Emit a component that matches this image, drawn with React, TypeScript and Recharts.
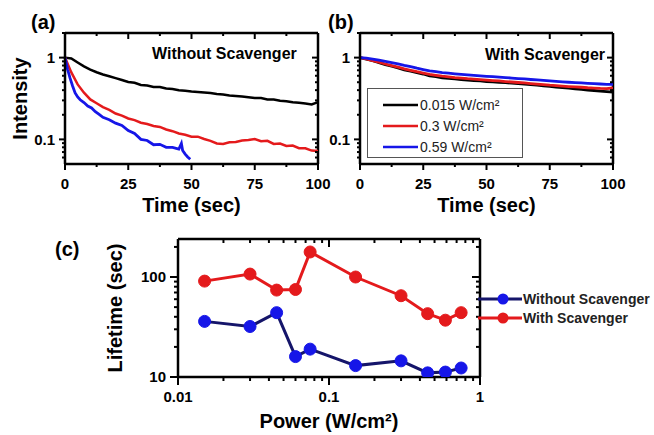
import { LineChart, Line, XAxis, YAxis, Legend, ReferenceLine } from "recharts";

const FONT = '"Liberation Sans", Arial, Helvetica, sans-serif';

// ---- panels (a) and (b): intensity vs time ----
const timeA = [
  0, 2.5, 5, 7.5, 10, 12.5, 15, 17.5, 20, 22.5, 25, 27.5, 30, 32.5, 35, 37.5, 40, 42.5, 45, 47.5, 50,
  52.5, 55, 57.5, 60, 62.5, 65, 67.5, 70, 72.5, 75, 77.5, 80, 82.5, 85, 87.5, 90, 92.5, 95, 97.5, 100,
];
const blackA = [
  1.0, 0.975, 0.87, 0.78, 0.712, 0.662, 0.622, 0.592, 0.562, 0.532, 0.503, 0.492, 0.463, 0.457, 0.438, 0.436,
  0.418, 0.414, 0.398, 0.394, 0.386, 0.38, 0.374, 0.368, 0.36, 0.354, 0.345, 0.34, 0.334, 0.328, 0.32,
  0.32, 0.308, 0.307, 0.296, 0.293, 0.284, 0.28, 0.274, 0.268, 0.285,
];
const redA = [
  1.0, 0.66, 0.47, 0.372, 0.308, 0.277, 0.248, 0.23, 0.207, 0.195, 0.18, 0.172, 0.16, 0.154, 0.146, 0.142,
  0.132, 0.126, 0.118, 0.114, 0.108, 0.108, 0.101, 0.096, 0.089, 0.088, 0.092, 0.093, 0.097, 0.098, 0.101,
  0.095, 0.096, 0.088, 0.089, 0.083, 0.084, 0.078, 0.078, 0.073, 0.072,
];
const timeBlueA = [
  0, 0.5, 1, 2, 3, 4, 5, 6, 7.5, 9, 10.5, 12, 13.5, 15, 17.5, 20, 22.5, 25, 27.5, 30, 32.5, 35, 37.5,
  40, 42.5, 45, 46, 46.5, 47.5, 48.5, 49.5,
];
const blueA = [
  1.0, 0.86, 0.72, 0.56, 0.45, 0.37, 0.33, 0.305, 0.282, 0.256, 0.242, 0.218, 0.202, 0.186, 0.174, 0.158,
  0.148, 0.128, 0.118, 0.1, 0.097, 0.086, 0.087, 0.08, 0.08, 0.076, 0.089, 0.073, 0.066, 0.061, 0.057,
];
const blackB = [
  1.0, 0.96, 0.915, 0.87, 0.82, 0.785, 0.75, 0.71, 0.685, 0.655, 0.63, 0.6, 0.585, 0.565, 0.558, 0.548,
  0.54, 0.532, 0.522, 0.518, 0.51, 0.505, 0.498, 0.494, 0.487, 0.48, 0.474, 0.467, 0.46, 0.452, 0.446,
  0.437, 0.43, 0.424, 0.415, 0.408, 0.4, 0.396, 0.39, 0.384, 0.378,
];
const redB = [
  1.0, 0.965, 0.92, 0.88, 0.835, 0.8, 0.765, 0.73, 0.7, 0.672, 0.648, 0.625, 0.608, 0.592, 0.582, 0.57,
  0.562, 0.552, 0.546, 0.538, 0.532, 0.524, 0.518, 0.51, 0.503, 0.496, 0.49, 0.482, 0.475, 0.468, 0.46,
  0.455, 0.449, 0.443, 0.438, 0.434, 0.428, 0.424, 0.42, 0.418, 0.425,
];
const blueB = [
  1.0, 0.985, 0.96, 0.93, 0.9, 0.87, 0.84, 0.805, 0.775, 0.742, 0.715, 0.69, 0.672, 0.655, 0.645, 0.634,
  0.625, 0.615, 0.606, 0.598, 0.59, 0.584, 0.576, 0.57, 0.562, 0.555, 0.548, 0.54, 0.533, 0.526, 0.518,
  0.512, 0.506, 0.5, 0.495, 0.49, 0.485, 0.48, 0.476, 0.472, 0.47,
];
const powerLabels = ["0.015 W/cm²", "0.3 W/cm²", "0.59 W/cm²"];

const timeTicks = [0, 12.5, 25, 37.5, 50, 62.5, 75, 87.5, 100];
const timeMajor = [0, 25, 50, 75, 100];
const intensityTicks = [0.06, 0.07, 0.08, 0.09, 0.1, 0.2, 0.3, 0.4, 0.5, 0.6, 0.7, 0.8, 0.9, 1, 2];
const intensityMajor = [0.1, 1];

// ---- panel (c): lifetime vs power ----
const power = [0.015, 0.03, 0.045, 0.06, 0.075, 0.15, 0.3, 0.45, 0.59, 0.75];
const lifetimeWithout = [36, 32, 44, 16, 19, 13, 14.5, 11, 11.2, 12.3];
const lifetimeWith = [91, 107, 74, 75, 178, 100, 65, 43, 37, 44];
const seriesC = ["Without Scavenger", "With Scavenger"];

const powerTicks = [
  0.01, 0.02, 0.03, 0.04, 0.05, 0.06, 0.07, 0.08, 0.09, 0.1, 0.2, 0.3, 0.4, 0.5, 0.6, 0.7, 0.8, 0.9, 1,
];
const powerMajor = [0.01, 0.1, 1];
const lifetimeTicks = [10, 20, 30, 40, 50, 60, 70, 80, 90, 100, 200];
const lifetimeMajor = [10, 100];

const RED = "#e41a1c";
const BLUE = "#1616e8";
const NAVY = "#15156a";

const zip = (xs: number[], ys: number[]) => xs.map((t, i) => ({ t, v: ys[i] }));

const axisLine = { stroke: "#000", strokeWidth: 2.5 };
const edge = { stroke: "#000", strokeWidth: 2.5 };
const tickText = { fontFamily: FONT, fontSize: 15, fontWeight: "bold" as const, fill: "#000" };
const titleStyle = { fontFamily: FONT, fontSize: 20, fontWeight: "bold" as const, fill: "#000" };

// plot box sizes given by the chart margins, used for the inward ticks on the far side
const SPAN_AB = { w: 253, h: 131 };
const SPAN_C = { w: 302, h: 138 };

// outer tick + label on the main axis, plus the inward tick on the opposite frame edge
function axisTick(horizontal: boolean, majors: number[], big: number, small: number, span: number) {
  return (props: any) => {
    const { x, y, payload } = props;
    const v: number = payload.value;
    const isMajor = majors.includes(v);
    const len = isMajor ? big : small;
    if (horizontal) {
      return (
        <g>
          <line x1={x} y1={y} x2={x} y2={y + len} stroke="#000" strokeWidth={2} />
          <line x1={x} y1={y - span} x2={x} y2={y - span + len} stroke="#000" strokeWidth={2} />
          {isMajor && (
            <text x={x} y={y + 25} textAnchor="middle" style={tickText}>
              {v}
            </text>
          )}
        </g>
      );
    }
    return (
      <g>
        <line x1={x - len} y1={y} x2={x} y2={y} stroke="#000" strokeWidth={2} />
        <line x1={x + span - len} y1={y} x2={x + span} y2={y} stroke="#000" strokeWidth={2} />
        {isMajor && (
          <text x={x - big - 4} y={y} dy="0.36em" textAnchor="end" style={tickText}>
            {v}
          </text>
        )}
      </g>
    );
  };
}

const common = { tickSize: 0, tickMargin: 0, tickLine: false, interval: 0 as const };

const legendB = (props: any) => (
  <div
    style={{
      width: 156,
      height: 70,
      boxSizing: "border-box",
      border: "1.5px solid #555",
      background: "#fff",
      paddingTop: 5,
    }}
  >
    {powerLabels.map((name) => {
      const p = (props.payload || []).find((q: any) => q.value === name);
      return (
        <div key={name} style={{ display: "flex", alignItems: "center", height: 21, paddingLeft: 15 }}>
          <svg width={37} height={6}>
            <line x1={0} y1={3} x2={35} y2={3} stroke={p ? p.color : "#000"} strokeWidth={2.5} />
          </svg>
          <span style={{ fontFamily: FONT, fontSize: 14, color: "#222" }}>{name}</span>
        </div>
      );
    })}
  </div>
);

const markerColor: Record<string, [string, string]> = {
  "Without Scavenger": [NAVY, BLUE],
  "With Scavenger": [RED, RED],
};

const legendC = () => (
  <div>
    {seriesC.map((name) => {
      const [lc, dc] = markerColor[name];
      return (
        <div key={name} style={{ display: "flex", alignItems: "center", height: 19 }}>
          <svg width={46} height={14}>
            <line x1={1} y1={7} x2={45} y2={7} stroke={lc} strokeWidth={3} />
            <circle cx={26} cy={7} r={5.5} fill={dc} />
          </svg>
          <span style={{ fontFamily: FONT, fontSize: 14, fontWeight: "bold", color: "#222" }}>{name}</span>
        </div>
      );
    })}
  </div>
);

export default function App() {
  return (
    <div style={{ position: "absolute", left: 0, top: 0, width: 654, height: 435, background: "#fff" }}>
      {/* (a) without scavenger */}
      <div style={{ position: "absolute", left: 0, top: 0 }}>
        <LineChart width={340} height={230} margin={{ top: 33, right: 22, bottom: 16, left: 20 }}>
          <XAxis
            xAxisId="b"
            type="number"
            dataKey="t"
            domain={[0, 100]}
            ticks={timeTicks}
            height={50}
            axisLine={axisLine}
            tick={axisTick(true, timeMajor, 6, 3, SPAN_AB.h)}
            label={{ value: "Time (sec)", position: "insideBottom", offset: 2, style: titleStyle }}
            {...common}
          />
          <YAxis
            yAxisId="l"
            type="number"
            scale="log"
            domain={[0.05, 2]}
            allowDataOverflow
            ticks={intensityTicks}
            width={45}
            axisLine={axisLine}
            tick={axisTick(false, intensityMajor, 6, 3, SPAN_AB.w)}
            label={{
              value: "Intensity",
              angle: -90,
              position: "insideLeft",
              offset: 0,
              style: { ...titleStyle, textAnchor: "middle" },
            }}
            {...common}
          />
          <ReferenceLine xAxisId="b" yAxisId="l" y={2} {...edge} />
          <ReferenceLine xAxisId="b" yAxisId="l" x={100} {...edge} />
          <Line xAxisId="b" yAxisId="l" data={zip(timeA, blackA)} dataKey="v" stroke="#000" strokeWidth={2.5} dot={false} isAnimationActive={false} />
          <Line xAxisId="b" yAxisId="l" data={zip(timeA, redA)} dataKey="v" stroke={RED} strokeWidth={2.5} dot={false} isAnimationActive={false} />
          <Line xAxisId="b" yAxisId="l" data={zip(timeBlueA, blueA)} dataKey="v" stroke={BLUE} strokeWidth={2.8} dot={false} isAnimationActive={false} />
        </LineChart>
      </div>

      {/* (b) with scavenger */}
      <div style={{ position: "absolute", left: 320, top: 0 }}>
        <LineChart width={334} height={230} margin={{ top: 33, right: 41, bottom: 16, left: 0 }}>
          <XAxis
            xAxisId="b"
            type="number"
            dataKey="t"
            domain={[0, 100]}
            ticks={timeTicks}
            height={50}
            axisLine={axisLine}
            tick={axisTick(true, timeMajor, 6, 3, SPAN_AB.h)}
            label={{ value: "Time (sec)", position: "insideBottom", offset: 2, style: titleStyle }}
            {...common}
          />
          <YAxis
            yAxisId="l"
            type="number"
            scale="log"
            domain={[0.05, 2]}
            allowDataOverflow
            ticks={intensityTicks}
            width={40}
            axisLine={axisLine}
            tick={axisTick(false, intensityMajor, 6, 3, SPAN_AB.w)}
            {...common}
          />
          <ReferenceLine xAxisId="b" yAxisId="l" y={2} {...edge} />
          <ReferenceLine xAxisId="b" yAxisId="l" x={100} {...edge} />
          <Legend
            layout="horizontal"
            align="center"
            verticalAlign="middle"
            content={legendB}
            wrapperStyle={{ left: 47, top: 88 }}
          />
          <Line xAxisId="b" yAxisId="l" name={powerLabels[0]} data={zip(timeA, blackB)} dataKey="v" stroke="#000" strokeWidth={2.8} dot={false} isAnimationActive={false} />
          <Line xAxisId="b" yAxisId="l" name={powerLabels[1]} data={zip(timeA, redB)} dataKey="v" stroke={RED} strokeWidth={2.8} dot={false} isAnimationActive={false} />
          <Line xAxisId="b" yAxisId="l" name={powerLabels[2]} data={zip(timeA, blueB)} dataKey="v" stroke={BLUE} strokeWidth={2.8} dot={false} isAnimationActive={false} />
        </LineChart>
      </div>

      {/* (c) lifetime vs power */}
      <div style={{ position: "absolute", left: 0, top: 230 }}>
        <LineChart width={654} height={205} margin={{ top: 9, right: 174, bottom: 7, left: 115 }}>
          <XAxis
            xAxisId="b"
            type="number"
            scale="log"
            dataKey="t"
            domain={[0.01, 1]}
            ticks={powerTicks}
            height={51}
            axisLine={axisLine}
            tick={axisTick(true, powerMajor, 8, 4, SPAN_C.h)}
            label={{ value: "Power (W/cm²)", position: "insideBottom", offset: 0, style: titleStyle }}
            {...common}
          />
          <YAxis
            yAxisId="l"
            type="number"
            scale="log"
            domain={[10, 240]}
            allowDataOverflow
            ticks={lifetimeTicks}
            width={63}
            axisLine={axisLine}
            tick={axisTick(false, lifetimeMajor, 8, 4, SPAN_C.w)}
            label={{
              value: "Lifetime (sec)",
              angle: -90,
              position: "insideLeft",
              offset: 0,
              style: { ...titleStyle, textAnchor: "middle" },
            }}
            {...common}
          />
          <ReferenceLine xAxisId="b" yAxisId="l" y={240} {...edge} />
          <ReferenceLine xAxisId="b" yAxisId="l" x={1} {...edge} />
          <Legend
            layout="horizontal"
            align="center"
            verticalAlign="middle"
            content={legendC}
            wrapperStyle={{ left: 477, top: 59 }}
          />
          <Line
            xAxisId="b"
            yAxisId="l"
            name={seriesC[0]}
            data={zip(power, lifetimeWithout)}
            dataKey="v"
            stroke={NAVY}
            strokeWidth={3}
            dot={{ r: 6, fill: BLUE, stroke: BLUE, strokeWidth: 1 }}
            isAnimationActive={false}
          />
          <Line
            xAxisId="b"
            yAxisId="l"
            name={seriesC[1]}
            data={zip(power, lifetimeWith)}
            dataKey="v"
            stroke={RED}
            strokeWidth={3}
            dot={{ r: 6, fill: RED, stroke: RED, strokeWidth: 1 }}
            isAnimationActive={false}
          />
        </LineChart>
      </div>

      {/* panel letters and in-plot notes */}
      <svg width={654} height={435} style={{ position: "absolute", left: 0, top: 0, pointerEvents: "none" }}>
        <text x={31} y={29} style={titleStyle}>(a)</text>
        <text x={328} y={29} style={titleStyle}>(b)</text>
        <text x={55} y={256} style={titleStyle}>(c)</text>
        <text x={152} y={59} style={{ ...titleStyle, fontSize: 16 }}>Without Scavenger</text>
        <text x={605} y={60} textAnchor="end" style={{ ...titleStyle, fontSize: 16 }}>With Scavenger</text>
      </svg>
    </div>
  );
}
